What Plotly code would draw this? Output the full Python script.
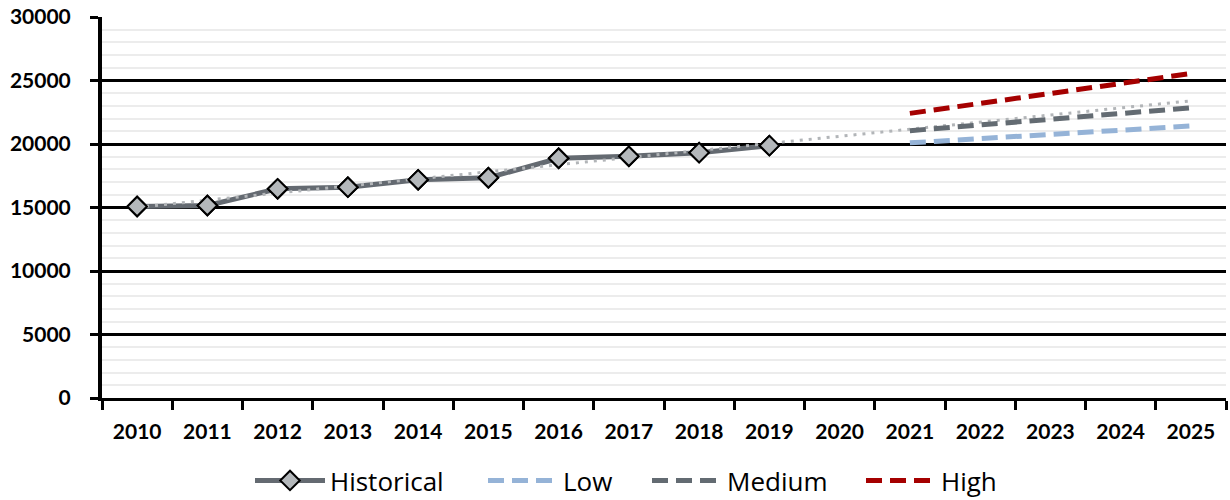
import plotly.graph_objects as go

# Category axis: one slot per year
years = [str(y) for y in range(2010, 2026)]

# Observed series
hist_years = ["2010", "2011", "2012", "2013", "2014", "2015", "2016", "2017", "2018", "2019"]
hist_values = [15080, 15160, 16470, 16600, 17180, 17340, 18880, 19030, 19320, 19870]

# Linear trend through the observed period, carried out to 2025
trend_years = ["2010", "2025"]
trend_values = [15020, 23400]

# Scenario projections
proj_years = ["2021", "2022", "2023", "2024", "2025"]
low_values = [20090, 20430, 20760, 21090, 21420]
medium_values = [21050, 21500, 21950, 22400, 22850]
high_values = [22410, 23200, 23980, 24760, 25550]

y_ticks = [0, 5000, 10000, 15000, 20000, 25000, 30000]
y_tick_labels = ["0", "5000", "10000", "15000", "20000", "25000", "30000"]

diamond = dict(symbol="diamond", size=15, color="#b4b8bb",
               line=dict(color="#000000", width=2))
dash_style = "16px,8px"

fig = go.Figure()

fig.add_trace(go.Scatter(
    x=hist_years, y=hist_values, name="Historical", mode="lines+markers",
    line=dict(color="#646a71", width=5), marker=diamond, legend="legend",
))
fig.add_trace(go.Scatter(
    x=trend_years, y=trend_values, mode="lines", showlegend=False,
    line=dict(color="#b2b5b8", width=3, dash="3px,6px"), hoverinfo="skip",
))
fig.add_trace(go.Scatter(
    x=proj_years, y=low_values, name="Low", mode="lines",
    line=dict(color="#95b3d7", width=5, dash=dash_style), legend="legend2",
))
fig.add_trace(go.Scatter(
    x=proj_years, y=medium_values, name="Medium", mode="lines",
    line=dict(color="#636b72", width=5, dash=dash_style), legend="legend3",
))
fig.add_trace(go.Scatter(
    x=proj_years, y=high_values, name="High", mode="lines",
    line=dict(color="#a50000", width=5, dash=dash_style), legend="legend4",
))
# Markers redrawn above the trend line
fig.add_trace(go.Scatter(
    x=hist_years, y=hist_values, mode="markers", showlegend=False,
    marker=diamond, hoverinfo="skip",
))

tick_font = dict(family="Lato", size=21, color="#000000", weight="bold")
legend_font = dict(family="Open Sans", size=26, color="#000000")


def legend_at(px_left):
    # Each series gets its own legend box, positioned along the bottom row
    return dict(
        orientation="h", x=(px_left - 102) / 1124, xanchor="left",
        y=-0.155, yanchor="top", font=legend_font, itemwidth=70,
        bgcolor="rgba(0,0,0,0)",
    )


fig.update_layout(
    width=1230, height=500,
    margin=dict(l=102, r=4, t=17, b=102, autoexpand=False),
    paper_bgcolor="#ffffff", plot_bgcolor="#ffffff",
    showlegend=True,
    legend=legend_at(250),
    legend2=legend_at(483),
    legend3=legend_at(647),
    legend4=legend_at(861),
    xaxis=dict(
        type="category", categoryorder="array", categoryarray=years,
        range=[-0.5, 15.5], automargin=False,
        showgrid=False, zeroline=False,
        showline=True, linecolor="#000000", linewidth=3,
        ticks="outside", tickson="boundaries", ticklen=9, tickwidth=3,
        tickcolor="#000000",
        tickfont=tick_font, ticklabelstandoff=13,
    ),
    yaxis=dict(
        range=[0, 30000], tickvals=y_ticks, ticktext=y_tick_labels,
        automargin=False,
        showgrid=True, gridcolor="#000000", gridwidth=3,
        zeroline=False,
        showline=True, linecolor="#000000", linewidth=4,
        ticks="outside", ticklen=8, tickwidth=3, tickcolor="#000000",
        tickfont=tick_font, ticklabelstandoff=15,
        minor=dict(dtick=1000, showgrid=True, gridcolor="#ececec", gridwidth=2),
    ),
)

fig.write_html("out.html")
